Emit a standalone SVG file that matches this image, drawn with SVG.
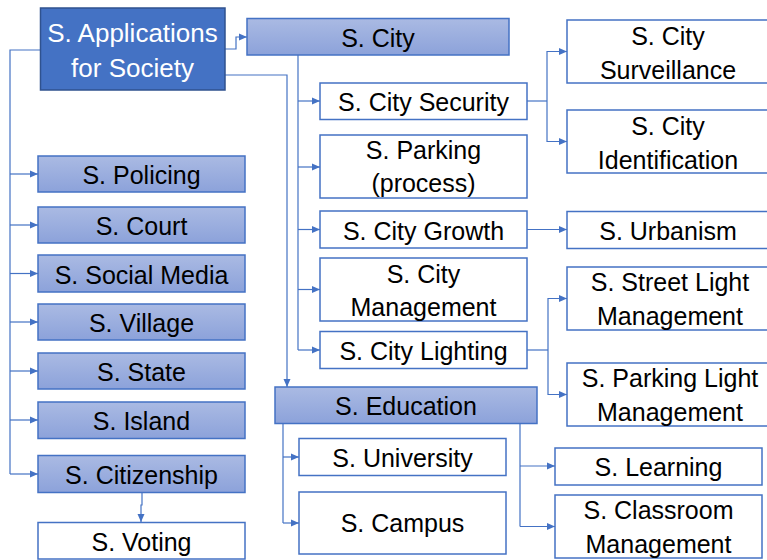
<svg xmlns="http://www.w3.org/2000/svg" width="767" height="560" viewBox="0 0 767 560">
<defs>
<linearGradient id="g" x1="0" y1="0" x2="0" y2="1">
<stop offset="0" stop-color="#AABAE3"/>
<stop offset="1" stop-color="#8CA2DA"/>
</linearGradient>
<marker id="a" markerUnits="userSpaceOnUse" markerWidth="9" markerHeight="8" refX="8" refY="4" orient="auto">
<path d="M0,0.5 L8,4 L0,7.5 z" fill="#4472C4"/>
</marker>
</defs>
<style>
.b{fill:url(#g);stroke:#4472C4;stroke-width:1.5}
.w{fill:#fff;stroke:#4472C4;stroke-width:1.5}
.r{fill:#4472C4;stroke:#2F528F;stroke-width:1.5}
text{font-family:"Liberation Sans",Arial,sans-serif;font-size:25px;fill:#000;text-anchor:middle}
.rt{fill:#fff;font-size:26px}
.c{fill:none;stroke:#4472C4;stroke-width:1.2}
.c.m{marker-end:url(#a)}
</style>
<g id="connectors">
<path class="c" d="M40,50 H10 V474"/>
<path class="c m" d="M10,174 H38"/>
<path class="c m" d="M10,225 H38"/>
<path class="c m" d="M10,273.5 H38"/>
<path class="c m" d="M10,322 H38"/>
<path class="c m" d="M10,371 H38"/>
<path class="c m" d="M10,420 H38"/>
<path class="c m" d="M10,474 H38"/>
<path class="c m" d="M142,492 V505 H141 V522"/>
<path class="c m" d="M225,49 H236 V37 H247"/>
<path class="c m" d="M225,75 H287 V387"/>
<path class="c" d="M298,55 V350"/>
<path class="c m" d="M298,101 H320"/>
<path class="c m" d="M298,167 H320"/>
<path class="c m" d="M298,229.5 H320"/>
<path class="c m" d="M298,289.5 H320"/>
<path class="c m" d="M298,350 H320"/>
<path class="c" d="M527,101 H547"/>
<path class="c m" d="M547,101 V51.5 H567"/>
<path class="c m" d="M547,101 V141.5 H567"/>
<path class="c m" d="M527,229.5 H567"/>
<path class="c" d="M527,350 H548"/>
<path class="c m" d="M548,350 V298.5 H567"/>
<path class="c m" d="M548,350 V394.5 H567"/>
<path class="c" d="M283,423 V523"/>
<path class="c m" d="M283,457 H299"/>
<path class="c m" d="M283,523 H299"/>
<path class="c" d="M520,423 V526.5"/>
<path class="c m" d="M520,466 H555"/>
<path class="c m" d="M520,526.5 H555"/>
</g>
<g id="root"><rect class="r" x="40.5" y="8" width="184.5" height="82"/><text class="rt" x="132.5" y="42">S. Applications</text><text class="rt" x="132.5" y="77">for Society</text></g>
<g id="policing"><rect class="b" x="38" y="156" width="207" height="36"/><text x="141.5" y="184">S. Policing</text></g>
<g id="court"><rect class="b" x="38" y="207" width="207" height="36"/><text x="141.5" y="235">S. Court</text></g>
<g id="socialmedia"><rect class="b" x="38" y="255" width="207" height="37"/><text x="141.5" y="283.5">S. Social Media</text></g>
<g id="village"><rect class="b" x="38" y="304" width="207" height="36"/><text x="141.5" y="332">S. Village</text></g>
<g id="state"><rect class="b" x="38" y="353" width="207" height="36"/><text x="141.5" y="381">S. State</text></g>
<g id="island"><rect class="b" x="38" y="402" width="207" height="36.5"/><text x="141.5" y="430">S. Island</text></g>
<g id="citizenship"><rect class="b" x="38" y="455.5" width="207" height="37"/><text x="141.5" y="484">S. Citizenship</text></g>
<g id="voting"><rect class="w" x="38" y="522.5" width="207" height="36.5"/><text x="141.5" y="551">S. Voting</text></g>
<g id="city"><rect class="b" x="247" y="18.5" width="262" height="36.5"/><text x="378" y="47">S. City</text></g>
<g id="citysecurity"><rect class="w" x="320" y="83" width="207" height="36.5"/><text x="423.5" y="111">S. City Security</text></g>
<g id="parking"><rect class="w" x="320" y="135" width="207" height="63"/><text x="423.5" y="159">S. Parking</text><text x="423.5" y="192">(process)</text></g>
<g id="citygrowth"><rect class="w" x="320" y="211" width="207" height="37"/><text x="423.5" y="239.5">S. City Growth</text></g>
<g id="citymanagement"><rect class="w" x="320" y="258" width="207" height="63"/><text x="423.5" y="282.5">S. City</text><text x="423.5" y="316">Management</text></g>
<g id="citylighting"><rect class="w" x="320" y="331.5" width="207" height="37"/><text x="423.5" y="360">S. City Lighting</text></g>
<g id="surveillance"><rect class="w" x="567" y="20" width="205" height="63"/><text x="668" y="45">S. City</text><text x="668" y="79">Surveillance</text></g>
<g id="identification"><rect class="w" x="567" y="110" width="205" height="63"/><text x="668" y="135">S. City</text><text x="668" y="169">Identification</text></g>
<g id="urbanism"><rect class="w" x="567" y="211.5" width="205" height="37"/><text x="668" y="240">S. Urbanism</text></g>
<g id="streetlight"><rect class="w" x="567" y="267" width="205" height="63"/><text x="670" y="291">S. Street Light</text><text x="670" y="325">Management</text></g>
<g id="parkinglight"><rect class="w" x="567" y="363" width="205" height="63"/><text x="670" y="387">S. Parking Light</text><text x="670" y="421">Management</text></g>
<g id="education"><rect class="b" x="275" y="387" width="262" height="36.5"/><text x="406" y="415">S. Education</text></g>
<g id="university"><rect class="w" x="299" y="438.5" width="207" height="37"/><text x="402.5" y="467">S. University</text></g>
<g id="campus"><rect class="w" x="299" y="492" width="207" height="62"/><text x="402.5" y="532">S. Campus</text></g>
<g id="learning"><rect class="w" x="555" y="448" width="207" height="37"/><text x="658.5" y="476">S. Learning</text></g>
<g id="classroom"><rect class="w" x="555" y="495" width="207" height="63"/><text x="658.5" y="519">S. Classroom</text><text x="658.5" y="553">Management</text></g>
</svg>
